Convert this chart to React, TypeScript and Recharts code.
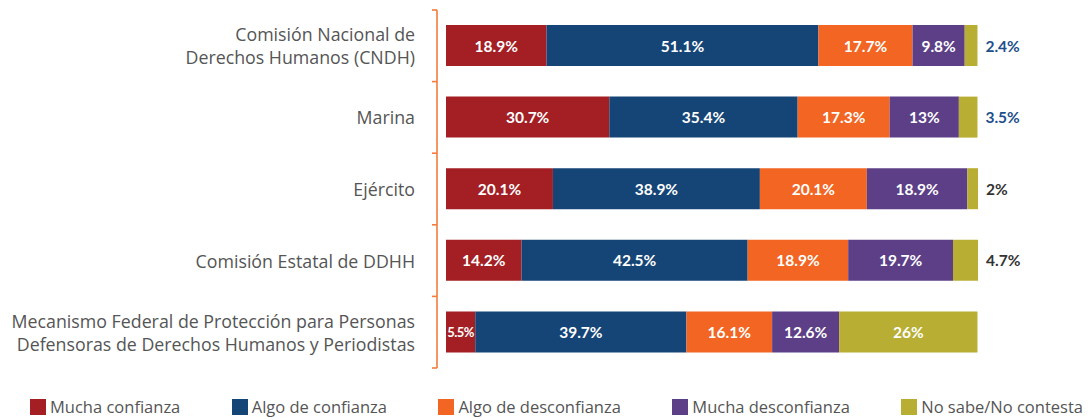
import React from "react";
import { BarChart, Bar, XAxis, YAxis, Legend, LabelList } from "recharts";

const categories = [
  "Comisión Nacional de\nDerechos Humanos (CNDH)",
  "Marina",
  "Ejército",
  "Comisión Estatal de DDHH",
  "Mecanismo Federal de Protección para Personas\nDefensoras de Derechos Humanos y Periodistas",
];
const muchaConfianza = [18.9, 30.7, 20.1, 14.2, 5.5];
const algoConfianza = [51.1, 35.4, 38.9, 42.5, 39.7];
const algoDesconfianza = [17.7, 17.3, 20.1, 18.9, 16.1];
const muchaDesconfianza = [9.8, 13, 18.9, 19.7, 12.6];
const noSabe = [2.4, 3.5, 2, 4.7, 26];

const seriesNames = [
  "Mucha confianza",
  "Algo de confianza",
  "Algo de desconfianza",
  "Mucha desconfianza",
  "No sabe/No contesta",
];

const COLORS = ["#a31f24", "#154577", "#f26522", "#5c3f87", "#b8ae33"];
const OUTSIDE_LABEL_COLORS = ["#1d4f8c", "#1d4f8c", "#333333", "#333333", "#333333"];

const W = 1088;
const H = 420;
const MARGIN = { top: 10, right: 110, bottom: 52, left: 0 };
const YAXIS_W = 437;
const BAND = (H - MARGIN.top - MARGIN.bottom) / categories.length;
const AXIS_COLOR = "#f47b3c";

const keys = ["mc", "ac", "ad", "md", "ns"];
const data = categories.map((name, i) => ({
  name,
  mc: muchaConfianza[i],
  ac: algoConfianza[i],
  ad: algoDesconfianza[i],
  md: muchaDesconfianza[i],
  ns: noSabe[i],
}));

const YTick = (props: any) => {
  const { y, payload, index } = props;
  const lines = String(payload.value).split("\n");
  const lh = 23;
  const ax = YAXIS_W;
  return (
    <g>
      <text
        x={ax - 22}
        y={y}
        textAnchor="end"
        fill="#555"
        fontFamily="Open Sans"
        fontSize={17.8}
      >
        {lines.map((l, k) => (
          <tspan key={k} x={ax - 22} y={y + (k - (lines.length - 1) / 2) * lh} dominantBaseline="central">
            {l}
          </tspan>
        ))}
      </text>
      <line x1={ax - 5} x2={ax} y1={y - BAND / 2} y2={y - BAND / 2} stroke={AXIS_COLOR} strokeWidth={1.6} />
      {index === categories.length - 1 && (
        <line x1={ax - 5} x2={ax} y1={y + BAND / 2} y2={y + BAND / 2} stroke={AXIS_COLOR} strokeWidth={1.6} />
      )}
    </g>
  );
};

const makeLabel = (isLast: boolean) => (props: any) => {
  const { x, y, width, height, value, index } = props;
  const cy = y + height / 2;
  const outside = isLast && value < 10;
  if (outside) {
    return (
      <text
        x={x + width + 8}
        y={cy}
        dominantBaseline="central"
        textAnchor="start"
        fill={OUTSIDE_LABEL_COLORS[index]}
        fontFamily="Lato"
        fontWeight={700}
        fontSize={15.5}
      >
        {`${value}%`}
      </text>
    );
  }
  const small = width < 40;
  return (
    <text
      x={x + width / 2}
      y={cy}
      dominantBaseline="central"
      textAnchor="middle"
      fill="#ffffff"
      fontFamily="Lato"
      fontWeight={700}
      fontSize={small ? 13 : 15.5}
      letterSpacing={small ? -0.5 : 0}
    >
      {`${value}%`}
    </text>
  );
};

const LegendContent = () => (
  <div
    style={{
      display: "flex",
      justifyContent: "space-between",
      paddingLeft: 30,
      paddingRight: 5,
      fontFamily: "Open Sans",
      fontSize: 16.5,
      color: "#555",
      lineHeight: "20px",
    }}
  >
    {seriesNames.map((n, i) => (
      <div key={n} style={{ display: "flex", alignItems: "center" }}>
        <span style={{ width: 16, height: 16, background: COLORS[i], display: "inline-block", marginRight: 4 }} />
        <span>{n}</span>
      </div>
    ))}
  </div>
);

export default function App() {
  return (
    <div style={{ position: "absolute", left: 0, top: 0, width: W, height: H, background: "#fff" }}>
      <BarChart width={W} height={H} data={data} layout="vertical" margin={MARGIN} barSize={41}>
        <XAxis type="number" domain={[0, 100]} hide padding={{ left: 9, right: 0 }} />
        <YAxis
          type="category"
          dataKey="name"
          width={YAXIS_W}
          axisLine={{ stroke: AXIS_COLOR, strokeWidth: 1.6 }}
          tickLine={false}
          tickSize={0}
          tickMargin={0}
          tick={<YTick />}
          interval={0}
        />
        <Legend
          verticalAlign="middle"
          align="center"
          layout="horizontal"
          content={<LegendContent />}
          wrapperStyle={{ top: 397, left: 0, width: W }}
        />
        {keys.map((k, i) => (
          <Bar key={k} dataKey={k} name={seriesNames[i]} stackId="a" fill={COLORS[i]} isAnimationActive={false}>
            <LabelList dataKey={k} content={makeLabel(i === keys.length - 1)} />
          </Bar>
        ))}
      </BarChart>
    </div>
  );
}
